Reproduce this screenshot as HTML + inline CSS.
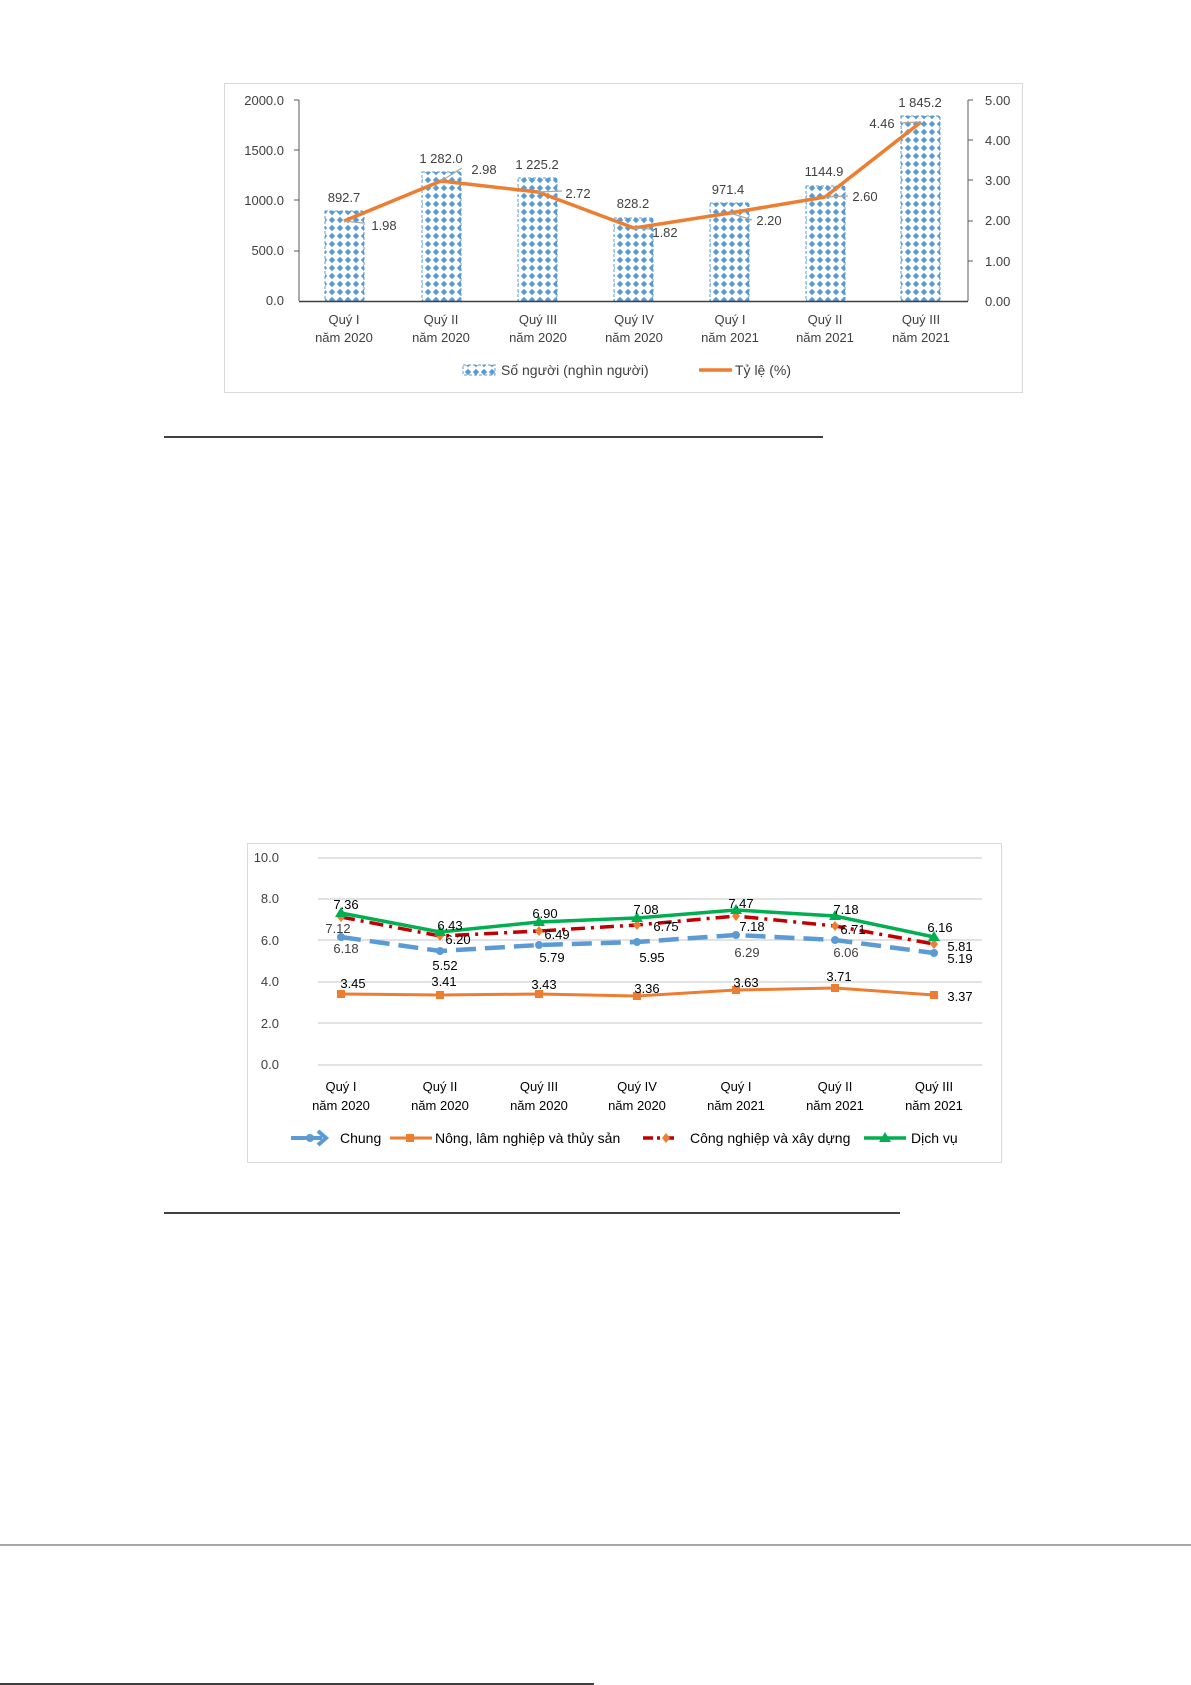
<!DOCTYPE html>
<html><head><meta charset="utf-8"><style>
html,body{margin:0;padding:0;background:#fff;width:1191px;height:1685px;overflow:hidden}
svg{display:block}
text{font-family:"Liberation Sans",sans-serif;fill:#404040}
</style></head><body>
<svg width="1191" height="1685" viewBox="0 0 1191 1685" xmlns="http://www.w3.org/2000/svg">
<defs>
<pattern id="dots" width="8" height="8" patternUnits="userSpaceOnUse">
<rect width="8" height="8" fill="#fff"/>
<polygon points="4,0.8 7.2,4 4,7.2 0.8,4" fill="#5b9bd5"/>
</pattern>
</defs>
<!-- Chart 1 -->
<rect x="224.5" y="83.5" width="798" height="309" fill="#fff" stroke="#d9d9d9"/>
<g font-size="13" text-anchor="end">
<text x="284" y="105">2000.0</text><text x="284" y="155">1500.0</text><text x="284" y="205">1000.0</text><text x="284" y="255">500.0</text><text x="284" y="305">0.0</text>
</g>
<g font-size="13">
<text x="985" y="105">5.00</text><text x="985" y="145">4.00</text><text x="985" y="185">3.00</text><text x="985" y="225">2.00</text><text x="985" y="266">1.00</text><text x="985" y="306">0.00</text>
</g>
<g stroke="#595959" stroke-width="1">
<line x1="299" y1="100" x2="299" y2="301"/><line x1="294" y1="100" x2="299" y2="100"/><line x1="294" y1="150" x2="299" y2="150"/><line x1="294" y1="200" x2="299" y2="200"/><line x1="294" y1="251" x2="299" y2="251"/>
<line x1="968" y1="100" x2="968" y2="301"/><line x1="968" y1="100" x2="973" y2="100"/><line x1="968" y1="140" x2="973" y2="140"/><line x1="968" y1="180" x2="973" y2="180"/><line x1="968" y1="221" x2="973" y2="221"/><line x1="968" y1="261" x2="973" y2="261"/>
</g>
<g fill="url(#dots)" stroke="#5b9bd5" stroke-dasharray="3,2">
<rect x="325" y="211" width="39" height="90"/>
<rect x="422" y="172" width="39" height="129"/>
<rect x="518" y="178" width="39" height="123"/>
<rect x="614" y="218" width="39" height="83"/>
<rect x="710" y="203" width="39" height="98"/>
<rect x="806" y="186" width="39" height="115"/>
<rect x="901" y="116" width="39" height="185"/>
</g>
<line x1="299" y1="301.5" x2="968" y2="301.5" stroke="#404040" stroke-width="1.5"/>
<polyline points="344,221 441,181 538,192 634,228 730,213 825,197 921,122" fill="none" stroke="#ed7d31" stroke-width="3.5" stroke-linejoin="round"/>
<g stroke="#a6a6a6" stroke-width="1.2">
<line x1="344" y1="221" x2="363" y2="223"/><line x1="441" y1="181" x2="462" y2="168"/><line x1="538" y1="192" x2="562" y2="191"/><line x1="634" y1="228" x2="650" y2="229"/><line x1="730" y1="213" x2="752" y2="220"/><line x1="825" y1="197" x2="848" y2="196"/><line x1="900" y1="123" x2="921" y2="122"/>
</g>
<g font-size="13" text-anchor="middle">
<text x="344" y="202">892.7</text><text x="441" y="163">1 282.0</text><text x="537" y="169">1 225.2</text><text x="633" y="208">828.2</text><text x="728" y="194">971.4</text><text x="824" y="176">1144.9</text><text x="920" y="107">1 845.2</text>
<text x="384" y="230">1.98</text><text x="484" y="174">2.98</text><text x="578" y="198">2.72</text><text x="665" y="237">1.82</text><text x="769" y="225">2.20</text><text x="865" y="201">2.60</text><text x="882" y="128">4.46</text>
</g>
<g font-size="13" text-anchor="middle" fill="#404040">
<text x="344" y="324">Quý I</text><text x="344" y="342">năm 2020</text>
<text x="441" y="324">Quý II</text><text x="441" y="342">năm 2020</text>
<text x="538" y="324">Quý III</text><text x="538" y="342">năm 2020</text>
<text x="634" y="324">Quý IV</text><text x="634" y="342">năm 2020</text>
<text x="730" y="324">Quý I</text><text x="730" y="342">năm 2021</text>
<text x="825" y="324">Quý II</text><text x="825" y="342">năm 2021</text>
<text x="921" y="324">Quý III</text><text x="921" y="342">năm 2021</text>
</g>
<rect x="463" y="365" width="32" height="10" fill="url(#dots)" stroke="#5b9bd5" stroke-dasharray="3,2"/>
<text x="501" y="375" font-size="14">Số người (nghìn người)</text>
<line x1="699" y1="370" x2="732" y2="370" stroke="#ed7d31" stroke-width="3.5"/>
<text x="735" y="375" font-size="14">Tỷ lệ (%)</text>
<line x1="164" y1="437" x2="823" y2="437" stroke="#000" stroke-width="1.5"/>

<!-- Chart 2 -->
<rect x="247.5" y="843.5" width="754" height="319" fill="#fff" stroke="#d9d9d9"/>
<g stroke="#d9d9d9" stroke-width="1.5">
<line x1="318" y1="858" x2="982" y2="858"/><line x1="318" y1="899" x2="982" y2="899"/><line x1="318" y1="940" x2="982" y2="940"/><line x1="318" y1="982" x2="982" y2="982"/><line x1="318" y1="1023" x2="982" y2="1023"/><line x1="318" y1="1065" x2="982" y2="1065"/>
</g>
<g font-size="13" text-anchor="end">
<text x="279" y="862">10.0</text><text x="279" y="903">8.0</text><text x="279" y="945">6.0</text><text x="279" y="986">4.0</text><text x="279" y="1028">2.0</text><text x="279" y="1069">0.0</text>
</g>
<polyline points="341,994 440,995 539,994 637,996 736,990 835,988 934,995" fill="none" stroke="#ed7d31" stroke-width="3"/>
<g fill="#ed7d31"><rect x="337" y="990" width="8" height="8"/><rect x="436" y="991" width="8" height="8"/><rect x="535" y="990" width="8" height="8"/><rect x="633" y="992" width="8" height="8"/><rect x="732" y="986" width="8" height="8"/><rect x="831" y="984" width="8" height="8"/><rect x="930" y="991" width="8" height="8"/></g>
<polyline points="341,937 440,951 539,945 637,942 736,935 835,940 934,953" fill="none" stroke="#5b9bd5" stroke-width="4.5" stroke-dasharray="20,9"/>
<g fill="#5b9bd5"><circle cx="341" cy="937" r="4"/><circle cx="440" cy="951" r="4"/><circle cx="539" cy="945" r="4"/><circle cx="637" cy="942" r="4"/><circle cx="736" cy="935" r="4"/><circle cx="835" cy="940" r="4"/><circle cx="934" cy="953" r="4"/></g>
<polyline points="341,917 440,936 539,931 637,925 736,916 835,926 934,944" fill="none" stroke="#c00000" stroke-width="3.5" stroke-dasharray="14,6,3,6"/>
<g fill="#ed7d31"><polygon points="341,912 345,917 341,922 337,917"/><polygon points="440,931 444,936 440,941 436,936"/><polygon points="539,926 543,931 539,936 535,931"/><polygon points="637,920 641,925 637,930 633,925"/><polygon points="736,911 740,916 736,921 732,916"/><polygon points="835,921 839,926 835,931 831,926"/><polygon points="934,939 938,944 934,949 930,944"/></g>
<polyline points="341,913 440,932 539,922 637,918 736,910 835,916 934,937" fill="none" stroke="#00b050" stroke-width="3.5"/>
<g fill="#00b050"><polygon points="341,907 347,917 335,917"/><polygon points="440,926 446,936 434,936"/><polygon points="539,916 545,926 533,926"/><polygon points="637,912 643,922 631,922"/><polygon points="736,904 742,914 730,914"/><polygon points="835,910 841,920 829,920"/><polygon points="934,931 940,941 928,941"/></g>
<g font-size="13" text-anchor="middle">
<text x="346" y="909" style="fill:#000">7.36</text><text x="338" y="933" style="fill:#404040">7.12</text><text x="346" y="953" style="fill:#404040">6.18</text>
<text x="450" y="930" style="fill:#000">6.43</text><text x="458" y="944" style="fill:#000">6.20</text><text x="445" y="970" style="fill:#000">5.52</text>
<text x="545" y="918" style="fill:#000">6.90</text><text x="557" y="939" style="fill:#000">6.49</text><text x="552" y="962" style="fill:#000">5.79</text>
<text x="646" y="914" style="fill:#000">7.08</text><text x="666" y="931" style="fill:#000">6.75</text><text x="652" y="962" style="fill:#000">5.95</text>
<text x="741" y="908" style="fill:#000">7.47</text><text x="752" y="931" style="fill:#000">7.18</text><text x="747" y="957" style="fill:#404040">6.29</text>
<text x="846" y="914" style="fill:#000">7.18</text><text x="853" y="934" style="fill:#000">6.71</text><text x="846" y="957" style="fill:#404040">6.06</text>
<text x="940" y="932" style="fill:#000">6.16</text><text x="960" y="951" style="fill:#000">5.81</text><text x="960" y="963" style="fill:#000">5.19</text>
<text x="353" y="988" style="fill:#000">3.45</text><text x="444" y="986" style="fill:#000">3.41</text><text x="544" y="989" style="fill:#000">3.43</text><text x="647" y="993" style="fill:#000">3.36</text><text x="746" y="987" style="fill:#000">3.63</text><text x="839" y="981" style="fill:#000">3.71</text><text x="960" y="1001" style="fill:#000">3.37</text>
</g>
<g font-size="13" text-anchor="middle">
<text x="341" y="1091" style="fill:#000">Quý I</text><text x="341" y="1110" style="fill:#000">năm 2020</text>
<text x="440" y="1091" style="fill:#000">Quý II</text><text x="440" y="1110" style="fill:#000">năm 2020</text>
<text x="539" y="1091" style="fill:#000">Quý III</text><text x="539" y="1110" style="fill:#000">năm 2020</text>
<text x="637" y="1091" style="fill:#000">Quý IV</text><text x="637" y="1110" style="fill:#000">năm 2020</text>
<text x="736" y="1091" style="fill:#000">Quý I</text><text x="736" y="1110" style="fill:#000">năm 2021</text>
<text x="835" y="1091" style="fill:#000">Quý II</text><text x="835" y="1110" style="fill:#000">năm 2021</text>
<text x="934" y="1091" style="fill:#000">Quý III</text><text x="934" y="1110" style="fill:#000">năm 2021</text>
</g>
<line x1="291" y1="1138" x2="322" y2="1138" stroke="#5b9bd5" stroke-width="4"/><circle cx="310" cy="1138" r="4" fill="#5b9bd5"/><polyline points="318,1131 326,1138 318,1145" fill="none" stroke="#5b9bd5" stroke-width="4"/>
<text x="340" y="1143" font-size="14" style="fill:#000">Chung</text>
<line x1="390" y1="1138" x2="432" y2="1138" stroke="#ed7d31" stroke-width="3"/><rect x="406" y="1134" width="8" height="8" fill="#ed7d31"/>
<text x="435" y="1143" font-size="14" style="fill:#000">Nông, lâm nghiệp và thủy sản</text>
<line x1="643" y1="1138" x2="676" y2="1138" stroke="#c00000" stroke-width="3.5" stroke-dasharray="10,4,3,4"/><polygon points="666,1133 670,1138 666,1143 662,1138" fill="#ed7d31"/>
<text x="690" y="1143" font-size="14" style="fill:#000">Công nghiệp và xây dựng</text>
<line x1="864" y1="1138" x2="906" y2="1138" stroke="#00b050" stroke-width="3.5"/><polygon points="885,1132 891,1142 879,1142" fill="#00b050"/>
<text x="911" y="1143" font-size="14" style="fill:#000">Dịch vụ</text>
<line x1="164" y1="1213" x2="900" y2="1213" stroke="#000" stroke-width="1.5"/>

<line x1="0" y1="1545" x2="1191" y2="1545" stroke="#8c8c8c" stroke-width="1.5"/>
<line x1="0" y1="1684" x2="594" y2="1684" stroke="#000" stroke-width="1.5"/>
</svg>
</body></html>
